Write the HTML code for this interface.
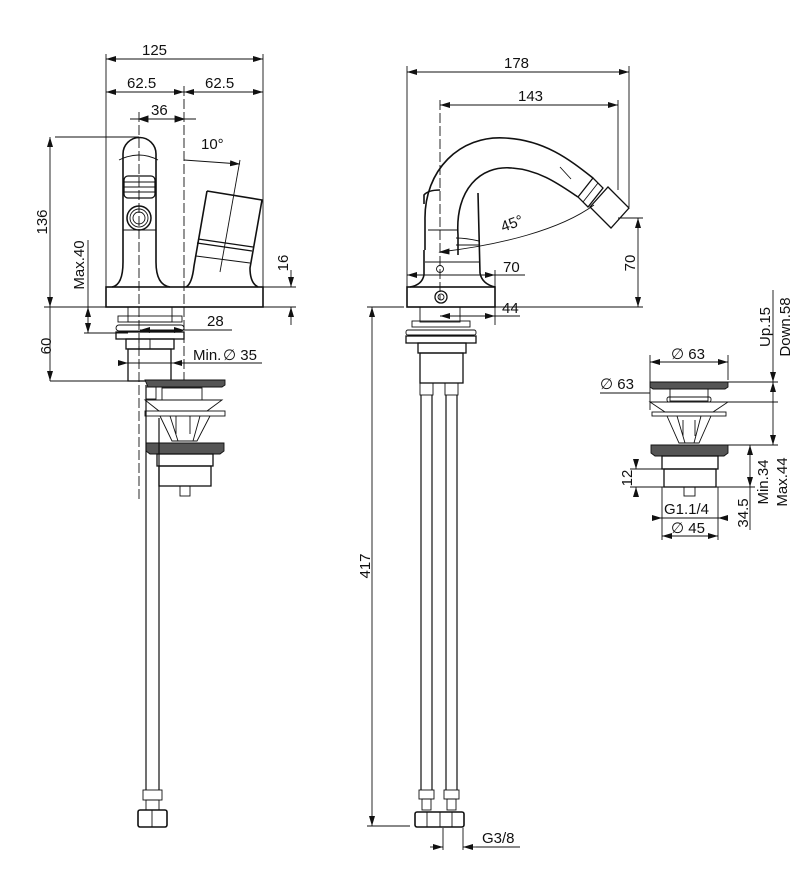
<!DOCTYPE html>
<html><head><meta charset="utf-8"><style>
html,body{margin:0;padding:0;background:#fff;}
svg{display:block;}
text{font-family:"Liberation Sans",sans-serif;font-size:15px;fill:#111;}
</style></head><body>
<svg width="811" height="887" viewBox="0 0 811 887" xmlns="http://www.w3.org/2000/svg">
<defs>
<marker id="a" markerWidth="10" markerHeight="6" refX="10" refY="3" orient="auto-start-reverse" markerUnits="userSpaceOnUse"><path d="M0,0 L10,3 L0,6 z" fill="#111"/></marker>
</defs>
<g stroke="#111" fill="none" stroke-width="0.9">
<!-- ===== FRONT VIEW ===== -->
<line x1="106" y1="54" x2="106" y2="287"/><line x1="263" y1="54" x2="263" y2="287"/>
<line x1="106" y1="59" x2="263" y2="59" marker-start="url(#a)" marker-end="url(#a)"/>
<line x1="106" y1="92" x2="184" y2="92" marker-start="url(#a)" marker-end="url(#a)"/>
<line x1="184" y1="92" x2="263" y2="92" marker-start="url(#a)" marker-end="url(#a)"/>
<line x1="130" y1="119" x2="196" y2="119"/>
<path d="M139,119 l9,-3 v6z M184,119 l-9,-3 v6z" fill="#111"/>
<line x1="184" y1="86" x2="184" y2="380" stroke-dasharray="10,3"/>
<line x1="139" y1="112" x2="139" y2="500" stroke-dasharray="10,3"/>
<line x1="55" y1="137" x2="139" y2="137"/>
<line x1="50" y1="137" x2="50" y2="307" marker-start="url(#a)" marker-end="url(#a)"/>
<line x1="44" y1="307" x2="106" y2="307"/>
<line x1="88" y1="240" x2="88" y2="307"/>
<line x1="88" y1="307" x2="88" y2="333" marker-start="url(#a)" marker-end="url(#a)"/>
<line x1="84" y1="333" x2="128" y2="333"/>
<line x1="263" y1="287" x2="296" y2="287"/><line x1="263" y1="307" x2="296" y2="307"/>
<line x1="291" y1="270" x2="291" y2="287" marker-end="url(#a)"/>
<line x1="291" y1="325" x2="291" y2="307" marker-end="url(#a)"/>
<line x1="50" y1="307" x2="50" y2="381" marker-end="url(#a)"/>
<line x1="50" y1="381" x2="128" y2="381"/>
<line x1="140" y1="330" x2="184" y2="330" marker-start="url(#a)" marker-end="url(#a)"/>
<line x1="184" y1="330" x2="232" y2="330"/>
<line x1="118" y1="363" x2="128" y2="363" marker-end="url(#a)"/>
<line x1="128" y1="363" x2="172" y2="363"/>
<line x1="182" y1="363" x2="172" y2="363" marker-end="url(#a)"/>
<line x1="182" y1="363" x2="262" y2="363"/>
<line x1="184" y1="160" x2="240" y2="164" marker-end="url(#a)"/>
<line x1="240" y1="160" x2="220" y2="272"/>
<!-- handle -->
<path d="M123,262 L123,154 A16.5,16.5 0 0 1 156,154 L156,262 Q156,285 170,287 M123,262 Q123,285 112,287" stroke-width="1.6"/>
<path d="M123,230 h33"/>
<rect x="124" y="176" width="31" height="22" rx="4" stroke-width="1.3"/>
<path d="M124,182 h31 M124,187 h31 M124,192 h31"/>
<circle cx="139" cy="218" r="12" stroke-width="1.5"/><circle cx="139" cy="218" r="9"/><circle cx="139" cy="218" r="6"/>
<path d="M119,160 Q139,150 158,160"/>
<!-- lever -->
<path d="M207,191 L262,200 L250,268 Q250,283 258,287 M207,191 L194,266 Q192,284 186,287" stroke-width="1.6"/>
<path d="M198,239 L253,247 M197,243 L252,251" stroke-width="1.2"/>
<path d="M196,256 L250,263"/>
<rect x="106" y="287" width="157" height="20" stroke-width="1.6"/>
<rect x="128" y="307" width="44" height="15"/>
<rect x="118" y="316" width="64" height="6"/>
<rect x="116" y="325" width="68" height="6" rx="3"/>
<rect x="116" y="332" width="68" height="7" stroke-width="1.3"/>
<rect x="126" y="339" width="48" height="10" stroke-width="1.3"/>
<line x1="139" y1="339" x2="139" y2="349"/><line x1="150" y1="339" x2="150" y2="349"/>
<rect x="128" y="349" width="43" height="32" stroke-width="1.3"/>
<!-- pop-up waste front -->
<path d="M145,380 h80 v5 l-3,2 h-74z" fill="#555"/>
<rect x="146" y="387" width="10" height="12"/>
<rect x="162" y="388" width="40" height="12"/>
<path d="M145,400 h77 l-15,11 h-48z"/>
<rect x="145" y="411" width="80" height="5"/>
<path d="M160,416 l12,25 h25 l13,-25 M170,416 l8,25 M200,416 l-7,25 M176,416 v18 M190,416 v18"/>
<path d="M146,443 h78 v8 l-4,3 h-70 l-4,-3z" fill="#555"/>
<rect x="157" y="454" width="56" height="12" stroke-width="1.3"/>
<rect x="159" y="466" width="52" height="20" stroke-width="1.3"/>
<rect x="180" y="486" width="10" height="10"/>
<line x1="146" y1="385" x2="146" y2="790" stroke-width="1.2"/><line x1="159" y1="418" x2="159" y2="790" stroke-width="1.2"/>
<rect x="143" y="790" width="19" height="10"/>
<rect x="146" y="800" width="13" height="10"/>
<rect x="138" y="810" width="29" height="17" rx="2" stroke-width="1.6"/>
<line x1="152" y1="810" x2="152" y2="827"/>

<!-- ===== SIDE VIEW ===== -->
<line x1="407" y1="66" x2="407" y2="287"/>
<line x1="629" y1="66" x2="629" y2="207"/>
<line x1="407" y1="72" x2="629" y2="72" marker-start="url(#a)" marker-end="url(#a)"/>
<line x1="440" y1="100" x2="440" y2="300" stroke-dasharray="10,3"/>
<line x1="618" y1="100" x2="618" y2="190"/>
<line x1="440" y1="105" x2="618" y2="105" marker-start="url(#a)" marker-end="url(#a)"/>
<path d="M425,250 L425,220 C424,170 460,135 505,138 C545,140 570,160 593,178" stroke-width="1.6"/>
<path d="M458,255 L458,235 C455,190 480,165 512,168 C540,170 560,185 578,197" stroke-width="1.6"/>
<path d="M578,197 L593,178 L603,188 L588,207 Z" stroke-width="1.3"/>
<path d="M590,207 L608,187 L629,208 L611,228 Z" stroke-width="1.3"/>
<path d="M583,202 L598,183"/>
<path d="M560,167 L571,179"/>
<path d="M424,204 L424,195 Q428,190 440,190 M478,193 L480,273 Q482,284 495,287 M424,250 L424,275 Q422,285 410,287" stroke-width="1.6"/>
<path d="M428,230 h30 M456,238 Q466,238 479,241 M456,245 h24"/>
<line x1="425" y1="262" x2="480" y2="262"/>
<circle cx="440" cy="269" r="3.5"/>
<path d="M440,252 C500,245 560,230 594,205"/>
<path d="M440,252 l9,-3 v5z" fill="#111"/>
<line x1="407" y1="275" x2="495" y2="275" marker-start="url(#a)" marker-end="url(#a)"/>
<line x1="495" y1="275" x2="525" y2="275"/>
<line x1="495" y1="270" x2="495" y2="325"/>
<line x1="440" y1="316" x2="495" y2="316" marker-start="url(#a)" marker-end="url(#a)"/>
<line x1="495" y1="316" x2="520" y2="316"/>
<line x1="618" y1="218" x2="643" y2="218"/>
<line x1="638" y1="218" x2="638" y2="307" marker-start="url(#a)" marker-end="url(#a)"/>
<line x1="495" y1="307" x2="643" y2="307"/>
<rect x="407" y="287" width="88" height="20" stroke-width="1.6"/>
<circle cx="441" cy="297" r="6" stroke-width="1.3"/><circle cx="441" cy="297" r="3"/>
<rect x="420" y="307" width="40" height="15"/>
<rect x="412" y="321" width="58" height="6"/>
<rect x="406" y="330" width="70" height="5" rx="2"/>
<rect x="406" y="336" width="70" height="7" stroke-width="1.3"/>
<rect x="418" y="343" width="48" height="10" stroke-width="1.3"/>
<rect x="420" y="353" width="43" height="30" stroke-width="1.3"/>
<line x1="372" y1="307" x2="372" y2="826" marker-start="url(#a)" marker-end="url(#a)"/>
<line x1="367" y1="307" x2="404" y2="307"/>
<line x1="367" y1="826" x2="410" y2="826"/>
<rect x="420" y="383" width="13" height="12"/><rect x="445" y="383" width="13" height="12"/>
<line x1="421" y1="395" x2="421" y2="790" stroke-width="1.2"/><line x1="432" y1="395" x2="432" y2="790" stroke-width="1.2"/>
<line x1="446" y1="395" x2="446" y2="790" stroke-width="1.2"/><line x1="457" y1="395" x2="457" y2="790" stroke-width="1.2"/>
<rect x="419" y="790" width="15" height="9"/><rect x="444" y="790" width="15" height="9"/>
<rect x="422" y="799" width="9" height="11"/><rect x="447" y="799" width="9" height="11"/>
<rect x="415" y="812" width="49" height="15" rx="2" stroke-width="1.6"/>
<line x1="427" y1="812" x2="427" y2="827"/><line x1="440" y1="812" x2="440" y2="827"/><line x1="452" y1="812" x2="452" y2="827"/>
<line x1="443" y1="828" x2="443" y2="850"/><line x1="463" y1="828" x2="463" y2="850"/>
<line x1="430" y1="847" x2="443" y2="847" marker-end="url(#a)"/>
<line x1="476" y1="847" x2="463" y2="847" marker-end="url(#a)"/>
<line x1="476" y1="847" x2="520" y2="847"/>

<!-- ===== POP-UP WASTE right ===== -->
<line x1="650" y1="355" x2="650" y2="410"/><line x1="728" y1="355" x2="728" y2="380"/>
<line x1="650" y1="362" x2="728" y2="362" marker-start="url(#a)" marker-end="url(#a)"/>
<line x1="600" y1="393" x2="650" y2="393"/>
<path d="M650,382 h78 v5 l-3,2 h-72 l-3,-2z" fill="#555"/>
<rect x="670" y="389" width="38" height="12"/>
<rect x="667" y="397" width="44" height="5" rx="2"/>
<path d="M650,402 h78 l-15,10 h-48z"/>
<rect x="652" y="412" width="74" height="4"/>
<path d="M667,416 l12,27 h20 l12,-27 M677,416 l8,27 M701,416 l-7,27 M683,420 v16 M695,420 v16"/>
<path d="M651,445 h77 v8 l-4,3 h-69 l-4,-3z" fill="#555"/>
<rect x="662" y="456" width="56" height="13" stroke-width="1.3"/>
<rect x="664" y="469" width="52" height="18" stroke-width="1.3"/>
<rect x="684" y="487" width="11" height="9"/>
<line x1="773" y1="290" x2="773" y2="382" marker-end="url(#a)"/>
<line x1="773" y1="382" x2="773" y2="445" marker-start="url(#a)" marker-end="url(#a)"/>
<line x1="728" y1="382" x2="778" y2="382"/>
<line x1="711" y1="402" x2="778" y2="402"/>
<line x1="728" y1="445" x2="778" y2="445"/>
<line x1="750" y1="445" x2="750" y2="487" marker-start="url(#a)" marker-end="url(#a)"/>
<line x1="716" y1="487" x2="755" y2="487"/>
<line x1="636" y1="460" x2="636" y2="469" marker-end="url(#a)"/>
<line x1="636" y1="494" x2="636" y2="487" marker-end="url(#a)"/>
<line x1="630" y1="469" x2="664" y2="469"/><line x1="630" y1="487" x2="664" y2="487"/>
<line x1="750" y1="487" x2="750" y2="530"/>
<line x1="662" y1="487" x2="662" y2="540"/><line x1="718" y1="487" x2="718" y2="540"/>
<line x1="654" y1="518" x2="728" y2="518"/>
<line x1="654" y1="518" x2="662" y2="518" marker-end="url(#a)"/><line x1="728" y1="518" x2="718" y2="518" marker-end="url(#a)"/>
<line x1="662" y1="536" x2="718" y2="536" marker-start="url(#a)" marker-end="url(#a)"/>
</g>
<text x="142" y="55">125</text>
<text x="127" y="88">62.5</text>
<text x="205" y="88">62.5</text>
<text x="151" y="115">36</text>
<text x="201" y="149">10°</text>
<text x="207" y="326">28</text>
<text x="193" y="360">Min.</text><text x="223" y="360">∅ 35</text>
<text transform="translate(47,222) rotate(-90)" text-anchor="middle">136</text>
<text transform="translate(84,265) rotate(-90)" text-anchor="middle">Max.40</text>
<text transform="translate(288,263) rotate(-90)" text-anchor="middle">16</text>
<text transform="translate(51,346) rotate(-90)" text-anchor="middle">60</text>
<text x="504" y="68">178</text>
<text x="518" y="101">143</text>
<text transform="translate(503,232) rotate(-20)">45°</text>
<text x="503" y="272">70</text>
<text x="502" y="313">44</text>
<text transform="translate(635,263) rotate(-90)" text-anchor="middle">70</text>
<text transform="translate(370,566) rotate(-90)" text-anchor="middle">417</text>
<text x="482" y="843">G3/8</text>
<text x="671" y="359">∅ 63</text>
<text x="600" y="389">∅ 63</text>
<text transform="translate(770,327) rotate(-90)" text-anchor="middle">Up.15</text>
<text transform="translate(790,327) rotate(-90)" text-anchor="middle">Down.58</text>
<text transform="translate(768,482) rotate(-90)" text-anchor="middle">Min.34</text>
<text transform="translate(787,482) rotate(-90)" text-anchor="middle">Max.44</text>
<text transform="translate(632,478) rotate(-90)" text-anchor="middle">12</text>
<text transform="translate(748,513) rotate(-90)" text-anchor="middle">34.5</text>
<text x="664" y="514">G1.1/4</text>
<text x="671" y="533">∅ 45</text>
</svg>
</body></html>
